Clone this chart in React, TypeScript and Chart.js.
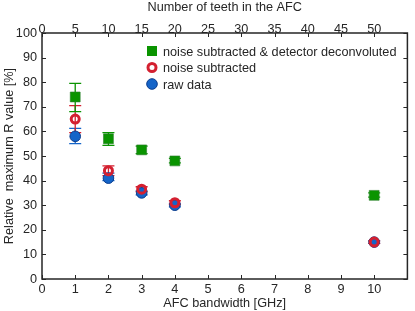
import React, { useEffect, useRef } from "react";
import { Chart, registerables } from "chart.js";
Chart.register(...registerables);

const bandwidth = [1, 2, 3, 4, 10];
const greenVals = [74, 57, 52.5, 48, 34];
const greenLow = [68, 54.3, 51, 47.2, 33.3];
const greenHigh = [79.5, 59.5, 54, 49, 35];
const redVals = [65, 44, 36.5, 31, 15];
const redLow = [59.5, 42, 35.5, 30.2, 14.5];
const redHigh = [70.5, 46, 37.5, 31.8, 15.5];
const blueVals = [58, 41, 35, 30, 15];
const blueLow = [55, 40, 34.2, 29.3, 14.5];
const blueHigh = [61.2, 43, 35.8, 30.7, 15.5];
const legendLabels = ["noise subtracted & detector deconvoluted", "noise subtracted", "raw data"];

const GREEN = "#0a9400";
const RED = "#d42030";
const BLUE = "#1464c8";
const FONT = "Liberation Sans, Arial, sans-serif";
const TXT = "#262626";

export default function App() {
  const ref = useRef<HTMLCanvasElement>(null);
  useEffect(() => {
    document.body.style.margin = "0";
    const mk = (vals: number[]) => bandwidth.map((x, i) => ({ x, y: vals[i] }));
    const errs = [
      { low: greenLow, high: greenHigh, color: GREEN },
      { low: redLow, high: redHigh, color: RED },
      { low: blueLow, high: blueHigh, color: BLUE },
    ];
    const plugin = {
      id: "custom",
      beforeDatasetsDraw(chart: any) {
        const ctx = chart.ctx;
        const xs = chart.scales.x, ys = chart.scales.y;
        ctx.save();
        ctx.lineWidth = 1.3;
        for (let d = errs.length - 1; d >= 0; d--) {
          const e = errs[d];
          ctx.strokeStyle = e.color;
          bandwidth.forEach((bx, i) => {
            const px = xs.getPixelForValue(bx);
            const y1 = ys.getPixelForValue(e.low[i]);
            const y2 = ys.getPixelForValue(e.high[i]);
            ctx.beginPath();
            ctx.moveTo(px, y1); ctx.lineTo(px, y2);
            ctx.moveTo(px - 6, y1); ctx.lineTo(px + 6, y1);
            ctx.moveTo(px - 6, y2); ctx.lineTo(px + 6, y2);
            ctx.stroke();
          });
        }
        ctx.restore();
      },
      afterDraw(chart: any) {
        const ctx = chart.ctx;
        const a = chart.chartArea;
        const xs = chart.scales.x, ys = chart.scales.y, x2 = chart.scales.x2;
        ctx.save();
        ctx.strokeStyle = "#262626";
        ctx.lineWidth = 1.5;
        ctx.strokeRect(a.left, a.top, a.right - a.left, a.bottom - a.top);
        ctx.lineWidth = 1;
        ctx.beginPath();
        const tl = 4;
        for (let v = 0; v <= 100; v += 10) {
          const py = Math.round(ys.getPixelForValue(v)) + 0.5;
          ctx.moveTo(a.left, py); ctx.lineTo(a.left + tl, py);
          ctx.moveTo(a.right, py); ctx.lineTo(a.right - tl, py);
        }
        for (let v = 0; v <= 11; v += 1) {
          const px = Math.round(xs.getPixelForValue(v)) + 0.5;
          ctx.moveTo(px, a.bottom); ctx.lineTo(px, a.bottom - tl);
        }
        for (let v = 0; v <= 50; v += 5) {
          const px = Math.round(x2.getPixelForValue(v)) + 0.5;
          ctx.moveTo(px, a.top); ctx.lineTo(px, a.top + tl);
        }
        ctx.stroke();
        // legend
        const items = [
          { style: "rect", color: GREEN },
          { style: "ring", color: RED },
          { style: "dot", color: BLUE },
        ];
        const lx = 152, ly0 = 51, dy = 16.5;
        ctx.font = "12.7px " + FONT;
        ctx.textBaseline = "middle";
        ctx.textAlign = "left";
        items.forEach((it, i) => {
          const y = ly0 + i * dy;
          if (it.style === "rect") {
            ctx.fillStyle = it.color;
            ctx.fillRect(lx - 5, y - 5, 10, 10);
          } else if (it.style === "ring") {
            ctx.strokeStyle = it.color;
            ctx.lineWidth = 3;
            ctx.beginPath(); ctx.arc(lx, y, 4, 0, Math.PI * 2); ctx.stroke();
          } else {
            ctx.fillStyle = it.color;
            ctx.strokeStyle = "#0a3c8c";
            ctx.lineWidth = 1;
            ctx.beginPath(); ctx.arc(lx, y, 5.3, 0, Math.PI * 2); ctx.fill(); ctx.stroke();
          }
          ctx.fillStyle = TXT;
          ctx.fillText(legendLabels[i], lx + 11, y + 1);
        });
        ctx.restore();
      },
    };
    const tickFont = { family: FONT, size: 12.7 };
    const chart = new Chart(ref.current!, {
      type: "scatter",
      data: {
        datasets: [
          {
            label: legendLabels[0], data: mk(greenVals), pointStyle: "rect",
            pointRadius: 7, backgroundColor: GREEN, borderColor: "#2e7d2e", borderWidth: 0.6,
          },
          {
            label: legendLabels[1], data: mk(redVals), pointStyle: "circle",
            pointRadius: 4, backgroundColor: "rgba(0,0,0,0)", borderColor: RED, borderWidth: 3,
          },
          {
            label: legendLabels[2], data: mk(blueVals), pointStyle: "circle",
            pointRadius: 5.3, backgroundColor: BLUE, borderColor: "#0a3c8c", borderWidth: 1,
          },
        ],
      },
      options: {
        animation: false,
        responsive: false,
        layout: { padding: { left: 2, right: 4, top: 0, bottom: 0 } },
        plugins: { legend: { display: false }, tooltip: { enabled: false } },
        scales: {
          x: {
            type: "linear", position: "bottom", min: 0, max: 11,
            grid: { display: false, drawTicks: false }, border: { display: false },
            ticks: { stepSize: 1, color: TXT, font: tickFont, padding: 3, maxRotation: 0,
              callback: (v: any) => (v <= 10 ? String(v) : "") },
            title: { display: true, text: "AFC bandwidth [GHz]", color: TXT, font: tickFont, padding: { top: 0, bottom: 0 } },
            afterFit: (s: any) => { s.height = 32; },
          },
          x2: {
            type: "linear", position: "top", min: 0, max: 55,
            grid: { display: false, drawTicks: false }, border: { display: false },
            ticks: { stepSize: 5, color: TXT, font: tickFont, padding: -4, maxRotation: 0,
              callback: (v: any) => (v <= 50 ? String(v) : "") },
            title: { display: true, text: "Number of teeth in the AFC", color: TXT, font: tickFont, padding: { top: 0, bottom: 0 } },
            afterFit: (s: any) => { s.height = 33; },
          },
          y: {
            type: "linear", position: "left", min: 0, max: 100,
            grid: { display: false, drawTicks: false }, border: { display: false },
            ticks: { stepSize: 10, color: TXT, font: tickFont, padding: 5 },
            title: { display: true, text: "Relative  maximum R value [%]", color: TXT, font: tickFont, padding: { top: 0, bottom: 0 } },
            afterFit: (s: any) => { s.width = 40; },
          },
        },
      } as any,
      plugins: [plugin],
    });
    return () => chart.destroy();
  }, []);
  return (
    <div style={{ width: 415, height: 311 }}>
      <canvas ref={ref} width={415} height={311} style={{ display: "block" }} />
    </div>
  );
}
